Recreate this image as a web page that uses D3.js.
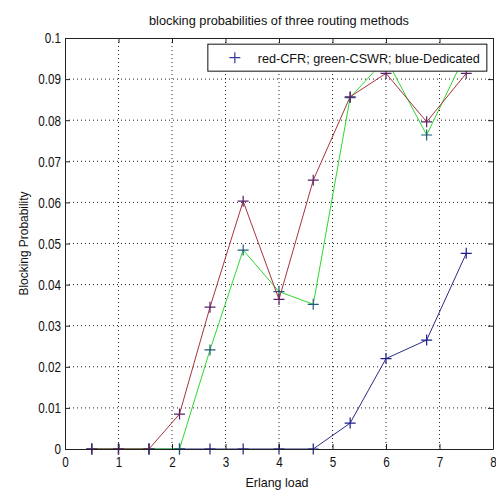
<!DOCTYPE html>
<html>
<head>
<meta charset="utf-8">
<script src="https://cdn.jsdelivr.net/npm/d3@7"></script>
<style>
  body { margin: 0; background: #fff; }
  text { font-family: "Liberation Sans Narrow", "Arial Narrow", "Liberation Sans", sans-serif; fill: #111; }
</style>
</head>
<body>
<div id="chart"></div>
<script>
// Erlang load values (x) shared by all three series
const loads = [0.5, 1, 1.57, 2.14, 2.71, 3.33, 4, 4.64, 5.33, 6, 6.76, 7.5];
const cfr = [0, 0, 0, 0.0085, 0.0345, 0.0603, 0.0364, 0.0654, 0.0857, 0.0914, 0.0796, 0.0914];
const cswr = [0, 0, 0, 0, 0.0241, 0.0484, 0.0383, 0.0352, 0.0855, 0.095, 0.0764, 0.0964];
const dedicated = [0, 0, 0, 0, 0, 0, 0, 0, 0.0063, 0.022, 0.0265, 0.0476];
const xTicks = [0, 1, 2, 3, 4, 5, 6, 7, 8];
const yTicks = [0, 0.01, 0.02, 0.03, 0.04, 0.05, 0.06, 0.07, 0.08, 0.09, 0.1];

const W = 496, H = 492;
const margin = { top: 38, right: 3, bottom: 43, left: 65 };
const width = W - margin.left - margin.right;
const height = H - margin.top - margin.bottom;

const svg = d3.select("#chart")
  .append("svg")
  .attr("width", W)
  .attr("height", H);

const g = svg.append("g")
  .attr("transform", `translate(${margin.left},${margin.top})`);

const x = d3.scaleLinear().domain([0, 8]).range([0, width]);
const y = d3.scaleLinear().domain([0, 0.1]).range([height, 0]);

// dotted grid
g.append("g").selectAll("line")
  .data(xTicks.slice(1, -1))
  .join("line")
  .attr("x1", d => x(d)).attr("x2", d => x(d))
  .attr("y1", 0).attr("y2", height)
  .attr("stroke", "#222").attr("stroke-dasharray", "1,3");
g.append("g").selectAll("line")
  .data(yTicks.slice(1, -1))
  .join("line")
  .attr("x1", 0).attr("x2", width)
  .attr("y1", d => y(d)).attr("y2", d => y(d))
  .attr("stroke", "#222").attr("stroke-dasharray", "1,3");

// series
const series = [
  { vals: dedicated, line: "#2c2c86", mark: "#1c1c8c" },
  { vals: cswr, line: "#2ed82e", mark: "#1f5a7c" },
  { vals: cfr, line: "#a8323e", mark: "#5a2068" }
];

const line = d3.line().x(d => x(d[0])).y(d => y(d[1]));
const ms = 5.5;

series.forEach(s => {
  const pts = loads.map((l, i) => [l, s.vals[i]]);
  g.append("path")
    .datum(pts)
    .attr("fill", "none")
    .attr("stroke", s.line)
    .attr("stroke-width", 1)
    .attr("d", line);
  g.append("g").selectAll("path")
    .data(pts)
    .join("path")
    .attr("d", d => `M${x(d[0]) - ms},${y(d[1])}H${x(d[0]) + ms}M${x(d[0])},${y(d[1]) - ms}V${y(d[1]) + ms}`)
    .attr("stroke", s.mark)
    .attr("stroke-width", 1.2);
});

// axes (matlab style: inward ticks on all sides)
const axB = g.append("g")
  .attr("transform", `translate(0,${height})`)
  .call(d3.axisBottom(x).tickValues(xTicks).tickFormat(d3.format("d")).tickSizeInner(-5).tickSizeOuter(0).tickPadding(5));
const axL = g.append("g")
  .call(d3.axisLeft(y).tickValues(yTicks).tickFormat(d => d === 0 ? "0" : d3.format(".2~f")(d)).tickSizeInner(-5).tickSizeOuter(0).tickPadding(4));
const axT = g.append("g")
  .call(d3.axisTop(x).tickValues(xTicks).tickFormat("").tickSizeInner(-5).tickSizeOuter(0));
const axR = g.append("g")
  .attr("transform", `translate(${width},0)`)
  .call(d3.axisRight(y).tickValues(yTicks).tickFormat("").tickSizeInner(-5).tickSizeOuter(0));

[axB, axL, axT, axR].forEach(a => {
  a.selectAll(".domain").attr("stroke", "#222");
  a.selectAll(".tick line").attr("stroke", "#222");
  a.selectAll("text").attr("font-size", 15).attr("font-family", null);
});
// condense tick labels (no narrow font installed)
axB.selectAll("text").attr("dy", "0.9em").attr("transform", "scale(0.78,1)");
axL.selectAll("text").attr("x", -4).attr("transform", "translate(-1,0) scale(0.78,1)");

// legend
const legend = g.append("g").attr("transform", `translate(${x(2.67)},${y(0.0985)})`);
legend.append("rect")
  .attr("width", 279).attr("height", 27)
  .attr("fill", "#fff").attr("stroke", "#111");
legend.append("path")
  .attr("d", `M${27 - ms},13.5H${27 + ms}M27,${13.5 - ms}V${13.5 + ms}`)
  .attr("stroke", "#3a3a9a").attr("stroke-width", 1.2);
legend.append("text")
  .attr("x", 50).attr("y", 14).attr("dy", "0.35em")
  .attr("font-size", 13)
  .attr("textLength", 222).attr("lengthAdjust", "spacingAndGlyphs")
  .text("red-CFR; green-CSWR; blue-Dedicated");

// title and labels
svg.append("text")
  .attr("x", margin.left + width / 2).attr("y", 25)
  .attr("text-anchor", "middle").attr("font-size", 13)
  .attr("textLength", 260).attr("lengthAdjust", "spacingAndGlyphs")
  .text("blocking probabilities of three routing methods");

svg.append("text")
  .attr("x", margin.left + width / 2 - 2).attr("y", 487)
  .attr("text-anchor", "middle").attr("font-size", 13)
  .attr("textLength", 63).attr("lengthAdjust", "spacingAndGlyphs")
  .text("Erlang load");

svg.append("text")
  .attr("transform", `translate(28,${margin.top + height / 2}) rotate(-90)`)
  .attr("text-anchor", "middle").attr("font-size", 13)
  .attr("textLength", 104).attr("lengthAdjust", "spacingAndGlyphs")
  .text("Blocking Probability");
</script>
</body>
</html>
